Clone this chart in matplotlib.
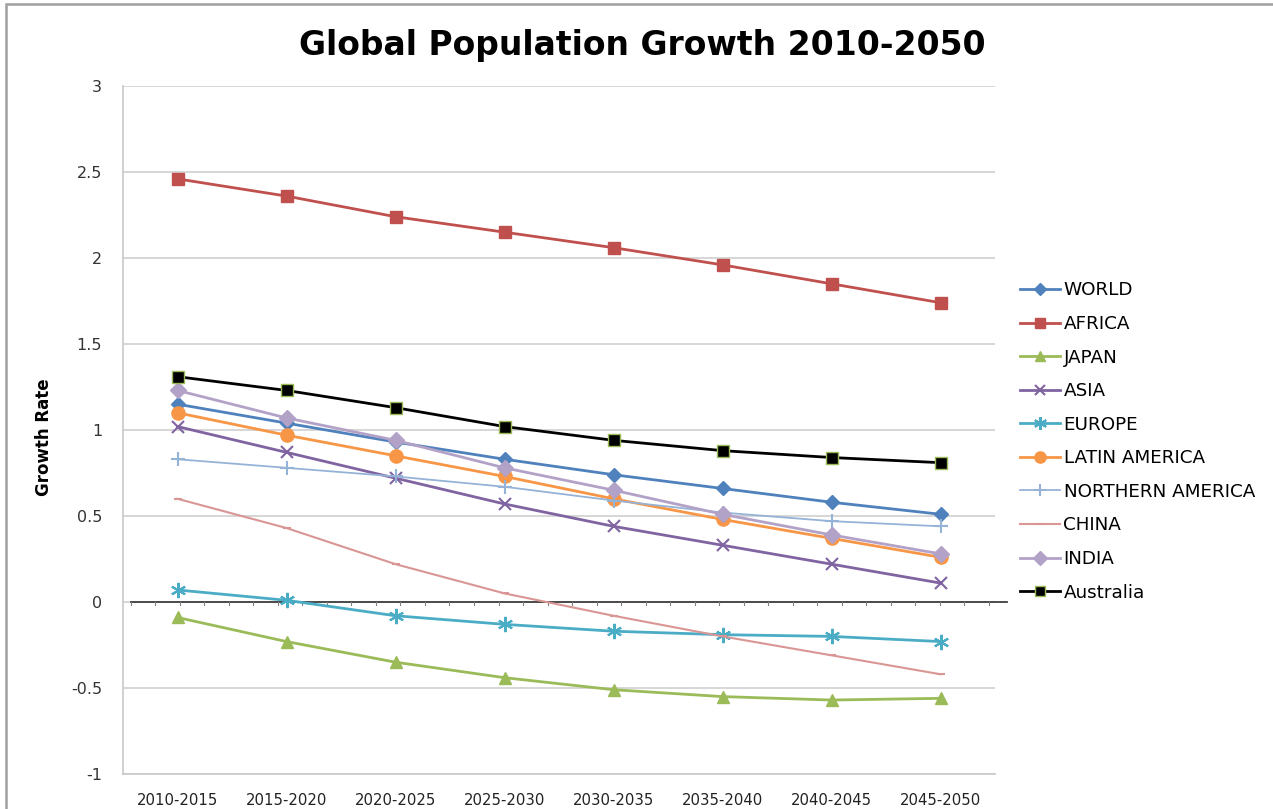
import numpy as np
import matplotlib
matplotlib.use("Agg")
import matplotlib.pyplot as plt
from matplotlib.patches import Rectangle

# data
periods = ["2010-2015", "2015-2020", "2020-2025", "2025-2030",
           "2030-2035", "2035-2040", "2040-2045", "2045-2050"]

world = [1.15, 1.04, 0.93, 0.83, 0.74, 0.66, 0.58, 0.51]
africa = [2.46, 2.36, 2.24, 2.15, 2.06, 1.96, 1.85, 1.74]
japan = [-0.09, -0.23, -0.35, -0.44, -0.51, -0.55, -0.57, -0.56]
asia = [1.02, 0.87, 0.72, 0.57, 0.44, 0.33, 0.22, 0.11]
europe = [0.07, 0.01, -0.08, -0.13, -0.17, -0.19, -0.20, -0.23]
latin_america = [1.10, 0.97, 0.85, 0.73, 0.60, 0.48, 0.37, 0.26]
northern_america = [0.83, 0.78, 0.73, 0.67, 0.59, 0.52, 0.47, 0.44]
china = [0.60, 0.43, 0.22, 0.05, -0.08, -0.20, -0.31, -0.42]
india = [1.23, 1.07, 0.94, 0.78, 0.65, 0.51, 0.39, 0.28]
australia = [1.31, 1.23, 1.13, 1.02, 0.94, 0.88, 0.84, 0.81]

yticks = [-1, -0.5, 0, 0.5, 1, 1.5, 2, 2.5, 3]
ytick_labels = ["-1", "-0.5", "0", "0.5", "1", "1.5", "2", "2.5", "3"]

fig = plt.figure(figsize=(12.73, 8.09), dpi=100)
ax = fig.add_axes([123 / 1273, 1 - 774 / 809, 872 / 1273, 688 / 809])

x = np.arange(len(periods))

# (label, values, color, marker, markersize, linewidth, marker edge color)
series = [
    ("WORLD", world, "#4F81BD", "D", 7, 2.0, "#4F81BD"),
    ("AFRICA", africa, "#C0504D", "s", 8, 2.0, "#C0504D"),
    ("JAPAN", japan, "#9BBB59", "^", 9, 2.0, "#9BBB59"),
    ("ASIA", asia, "#8064A2", "x", 9, 2.0, "#8064A2"),
    ("EUROPE", europe, "#4BACC6", (6, 2, 0), 11, 2.0, "#4BACC6"),
    ("LATIN AMERICA", latin_america, "#F79646", "o", 9.5, 2.0, "#F79646"),
    ("NORTHERN AMERICA", northern_america, "#95B3D7", "+", 10, 1.3, "#95B3D7"),
    ("CHINA", china, "#D99694", "_", 6, 1.5, "#D99694"),
    ("INDIA", india, "#B3A2C7", "D", 8, 2.0, "#B3A2C7"),
    ("Australia", australia, "#000000", "s", 8, 2.0, "#9BBB59"),
]

for label, vals, color, marker, ms, lw, mec in series:
    thin = marker in ("x", "+", "_") or isinstance(marker, tuple)
    ax.plot(x, vals, color=color, lw=lw, marker=marker, markersize=ms,
            markerfacecolor=color, markeredgecolor=mec,
            markeredgewidth=1.5 if thin else 1.0, label=label)

ax.set_xlim(-0.5, len(periods) - 0.5)
ax.set_ylim(-1, 3)
ax.set_yticks(yticks)
ax.set_yticklabels(ytick_labels)
ax.set_xticks(x)
ax.set_xticklabels(periods, fontsize=10.7)
ax.tick_params(axis="y", length=0, pad=15, labelsize=11.5, colors="#333333")
ax.tick_params(axis="x", length=0, pad=14, colors="#222222")

ax.grid(axis="y", color="#D0D0D0", lw=1.2)
ax.set_axisbelow(True)
for side in ("top", "right"):
    ax.spines[side].set_visible(False)
for side in ("left", "bottom"):
    ax.spines[side].set_color("#C8C8C8")
    ax.spines[side].set_linewidth(1.2)

# category axis crossing at zero, with small tick marks
ax.plot([-0.43, 7.61], [0, 0], color="#404040", lw=1.3, clip_on=False, zorder=1.5)
for t in np.arange(-0.43, 7.61, 0.225):
    ax.plot([t, t], [0, -0.02], color="#808080", lw=0.8, clip_on=False, zorder=1.5)

ax.set_ylabel("Growth Rate", fontweight="bold", fontsize=12)
ax.yaxis.set_label_coords(-0.08, 0.49)

fig.suptitle("Global Population Growth 2010-2050", x=642 / 1273, y=1 - 45 / 809,
             va="center", fontsize=23.8, fontweight="bold", family="DejaVu Sans")

ax.legend(loc="center left", bbox_to_anchor=(1003 / 1273, 1 - 441.5 / 809),
          bbox_transform=fig.transFigure, frameon=False, fontsize=13.2,
          labelspacing=0.85, handlelength=2.2, handletextpad=0.2,
          borderpad=0.4, markerscale=0.85)

# outer chart border (only top and left are in view)
fig.patches.append(Rectangle((6 / 1273, -0.1), 1.2, 1.1 - 3.5 / 809,
                             transform=fig.transFigure, fill=False,
                             edgecolor="#A0A0A0", lw=1.8))

fig.savefig("out.png", dpi=100)
